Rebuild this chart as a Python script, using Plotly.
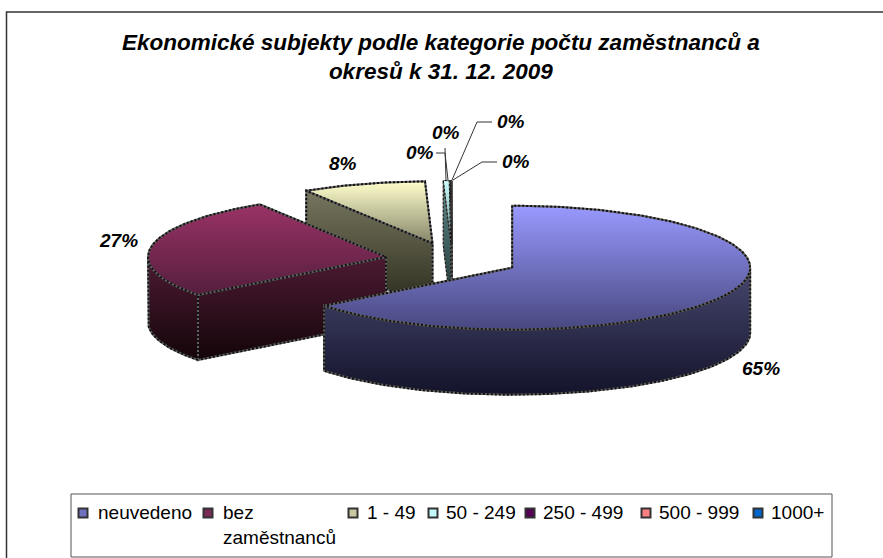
import math
import plotly.graph_objects as go

categories = ["neuvedeno", "bez<br>zaměstnanců", "1 - 49", "50 - 249", "250 - 499", "500 - 999", "1000+"]
values = [64.5, 26.6, 8.4, 0.4, 0.04, 0.03, 0.03]
percent_labels = ["65%", "27%", "8%", "0%", "0%", "0%", "0%"]
title_text = "Ekonomické subjekty podle kategorie počtu zaměstnanců a<br>okresů k 31. 12. 2009"

top_colors = [("#9999FF", "#47477f"), ("#993366", "#551e3d"), ("#FFFFCC", "#85856a"),
              ("#CCFFFF", "#5f8a8a"), ("#660066", "#330033"), ("#FF8080", "#804040"), ("#0066CC", "#003366")]
side_colors = [("#47476f", "#13132a"), ("#4d1a33", "#130509"), ("#77775f", "#2a2a1c"),
               ("#5f8a8a", "#1f3030"), ("#330033", "#100010"), ("#804040", "#301818"), ("#003366", "#001020")]
legend_colors = ["#7070c0", "#7a2a55", "#c8c8a0", "#c4fafa", "#550055", "#FF8080", "#0066CC"]

CX, CY, RX, RY = 452, 260, 238, 62
EXPLODE, DEPTH = 67, 65

fig = go.Figure()


def add_poly(xs, ys, colors, width):
    fig.add_trace(go.Scatter(
        x=xs, y=ys, mode="lines", fill="toself", showlegend=False, hoverinfo="skip",
        line=dict(color="#606060", width=width),
        fillgradient=dict(type="vertical",
                          colorscale=[[0, colors[1]], [1, colors[0]]]),
    ))
    fig.add_trace(go.Scatter(
        x=xs, y=ys, mode="lines", showlegend=False, hoverinfo="skip",
        line=dict(color="#111111", width=width, dash="2px,2px"),
    ))


def point(cx, cy, deg):
    r = math.radians(deg)
    return cx + RX * math.sin(r), cy - RY * math.cos(r)


total = sum(values)
slices = []
start = 0.0
for i, v in enumerate(values):
    sweep = v / total * 360
    mid = math.radians(start + sweep / 2)
    cx = CX + EXPLODE * math.sin(mid)
    cy = CY - EXPLODE * RY / RX * math.cos(mid)
    slices.append((i, start, start + sweep, cx, cy))
    start += sweep

# back to front
order = sorted(slices, key=lambda s: s[4])
for i, a, b, cx, cy in order:
    w = 2 if values[i] >= 1 else 1
    steps = max(2, int((b - a) / 1.5))
    degs = [a + (b - a) * k / steps for k in range(steps + 1)]
    # cut faces
    for deg, visible in ((a, math.sin(math.radians(a)) < 0), (b, math.sin(math.radians(b)) > 0)):
        if visible:
            px, py = point(cx, cy, deg)
            add_poly([cx, px, px, cx, cx], [cy, py, py + DEPTH, cy + DEPTH, cy], side_colors[i], w)
    # outer wall
    wall = [d for d in degs if 90 <= d <= 270]
    if len(wall) > 1:
        pts = [point(cx, cy, d) for d in wall]
        xs = [p[0] for p in pts] + [p[0] for p in reversed(pts)]
        ys = [p[1] for p in pts] + [p[1] + DEPTH for p in reversed(pts)]
        add_poly(xs + xs[:1], ys + ys[:1], side_colors[i], w)
    # top
    pts = [point(cx, cy, d) for d in degs]
    add_poly([cx] + [p[0] for p in pts] + [cx], [cy] + [p[1] for p in pts] + [cy], top_colors[i], w)

# leader lines of the four tiny slices
leaders = [([436, 445, 448], [153, 153, 180], 420, 152, 3),
           ([445, 446], [148, 180], 446, 132, 4),
           ([492, 477, 452], [122, 122, 180], 511, 121, 5),
           ([497, 482, 453], [162, 162, 180], 516, 161, 6)]
for xs, ys, lx, ly, idx in leaders:
    fig.add_trace(go.Scatter(x=xs, y=ys, mode="lines", showlegend=False, hoverinfo="skip",
                             line=dict(color="#333333", width=1)))

annotations = []
label_font = dict(family="Liberation Sans", size=19, color="black")


def bold_italic(s):
    return "<b><i>" + s + "</i></b>"


for (lx, ly, idx) in [(761, 368, 0), (118, 240, 1), (343, 163, 2)]:
    annotations.append(dict(x=lx, y=ly, text=bold_italic(percent_labels[idx]), showarrow=False,
                            font=label_font, xref="x", yref="y"))
for xs, ys, lx, ly, idx in leaders:
    annotations.append(dict(x=lx, y=ly, text=bold_italic(percent_labels[idx]), showarrow=False,
                            font=label_font, xref="x", yref="y"))

annotations.append(dict(x=441, y=57, text=bold_italic(title_text), showarrow=False, align="center",
                        font=dict(family="Liberation Sans", size=22.5, color="black"),
                        xref="x", yref="y"))

# legend
fig.add_trace(go.Scatter(
    x=[83, 208, 353, 433, 530, 646, 758], y=[513] * 7, mode="markers", showlegend=False, hoverinfo="skip",
    marker=dict(symbol="square", size=9, color=legend_colors, line=dict(color="#333333", width=2))))

shapes = [
    dict(type="rect", xref="x", yref="y", x0=6.5, y0=12, x1=900, y1=600, line=dict(color="#333333", width=1.5)),
    dict(type="rect", xref="x", yref="y", x0=71, y0=494, x1=832, y1=557, line=dict(color="#555555", width=1)),
]
for x, text in zip([96, 221, 365, 444, 541, 657, 769], categories):
    annotations.append(dict(x=x, y=500, text=text, showarrow=False, xanchor="left", yanchor="top",
                            align="left", font=dict(family="Liberation Sans", size=19, color="black"),
                            xref="x", yref="y"))

fig.update_layout(
    width=883, height=558, margin=dict(l=0, r=0, t=0, b=0), paper_bgcolor="white", plot_bgcolor="white",
    xaxis=dict(range=[0, 883], visible=False, fixedrange=True),
    yaxis=dict(range=[558, 0], visible=False, fixedrange=True),
    annotations=annotations, shapes=shapes, showlegend=False,
)
fig.write_html("out.html", config={"displayModeBar": False},
               post_script="document.body.style.margin='0';document.body.style.overflow='hidden';")
